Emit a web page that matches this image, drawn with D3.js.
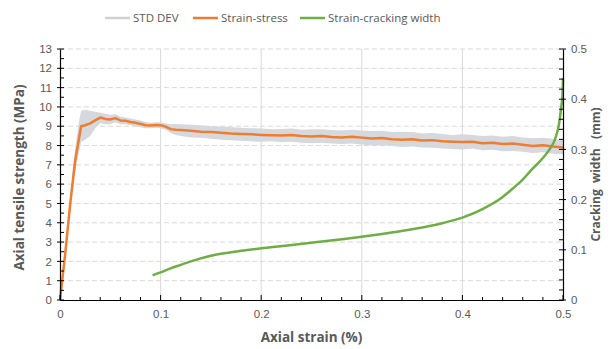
<!DOCTYPE html>
<html>
<head>
<meta charset="utf-8">
<script src="https://cdn.jsdelivr.net/npm/d3@7"></script>
<style>
  body { margin: 0; background: #fff; }
  svg { font-family: "Open Sans", "Noto Sans", sans-serif; }
</style>
</head>
<body>
<div id="chart"></div>
<script>
// strain (%) vs axial tensile stress (MPa)
const strain = [0, 0.005, 0.01, 0.015, 0.018, 0.021, 0.025, 0.03, 0.035, 0.04, 0.045, 0.05, 0.055, 0.06, 0.065, 0.07, 0.075, 0.08, 0.085, 0.09, 0.095, 0.1, 0.105, 0.11, 0.115, 0.12, 0.13, 0.14, 0.15, 0.16, 0.17, 0.18, 0.19, 0.2, 0.21, 0.22, 0.23, 0.24, 0.25, 0.26, 0.27, 0.28, 0.29, 0.3, 0.31, 0.32, 0.33, 0.34, 0.35, 0.36, 0.37, 0.38, 0.39, 0.4, 0.41, 0.42, 0.43, 0.44, 0.45, 0.46, 0.47, 0.48, 0.49, 0.5];
const stress = [0, 2.3, 4.9, 7.2, 8.1, 9.0, 9.05, 9.15, 9.3, 9.45, 9.38, 9.35, 9.42, 9.3, 9.28, 9.22, 9.18, 9.12, 9.05, 9.04, 9.06, 9.05, 8.98, 8.85, 8.82, 8.8, 8.77, 8.72, 8.7, 8.66, 8.62, 8.6, 8.58, 8.55, 8.53, 8.52, 8.54, 8.49, 8.47, 8.49, 8.44, 8.42, 8.45, 8.41, 8.37, 8.39, 8.33, 8.3, 8.32, 8.26, 8.28, 8.22, 8.2, 8.18, 8.2, 8.12, 8.15, 8.08, 8.1, 8.04, 7.98, 8.02, 7.95, 7.9];
const stdUpper = [0, 2.4, 5.1, 7.8, 9.0, 9.8, 9.85, 9.8, 9.75, 9.7, 9.65, 9.6, 9.62, 9.5, 9.45, 9.4, 9.35, 9.3, 9.22, 9.18, 9.2, 9.2, 9.15, 9.1, 9.12, 9.1, 9.08, 9.05, 9.0, 8.98, 8.95, 8.92, 8.9, 8.88, 8.85, 8.86, 8.88, 8.82, 8.84, 8.85, 8.8, 8.78, 8.82, 8.78, 8.75, 8.76, 8.7, 8.72, 8.7, 8.62, 8.65, 8.6, 8.55, 8.58, 8.55, 8.5, 8.52, 8.45, 8.5, 8.42, 8.38, 8.4, 8.35, 8.3];
const stdLower = [0, 2.2, 4.7, 6.6, 7.4, 8.2, 8.3, 8.5, 8.9, 9.15, 9.1, 9.1, 9.2, 9.1, 9.1, 9.05, 9.0, 8.95, 8.9, 8.9, 8.92, 8.9, 8.82, 8.65, 8.55, 8.5, 8.42, 8.4, 8.35, 8.3, 8.28, 8.25, 8.22, 8.2, 8.22, 8.18, 8.2, 8.15, 8.12, 8.14, 8.1, 8.08, 8.1, 8.05, 8.0, 8.02, 7.98, 7.92, 7.95, 7.9, 7.88, 7.85, 7.82, 7.8, 7.85, 7.75, 7.78, 7.7, 7.72, 7.68, 7.62, 7.65, 7.58, 7.55];

// strain (%) vs cracking width (mm)
const crackStrain = [0.093, 0.1, 0.11, 0.12, 0.13, 0.14, 0.15, 0.16, 0.18, 0.2, 0.25, 0.3, 0.35, 0.38, 0.4, 0.42, 0.44, 0.45, 0.46, 0.47, 0.48, 0.487, 0.492, 0.496, 0.498, 0.4995, 0.5];
const crackWidth = [0.05, 0.055, 0.063, 0.07, 0.077, 0.083, 0.088, 0.092, 0.098, 0.103, 0.114, 0.126, 0.141, 0.153, 0.164, 0.181, 0.205, 0.222, 0.24, 0.262, 0.283, 0.301, 0.32, 0.35, 0.38, 0.41, 0.44];

const xTicks = [0, 0.1, 0.2, 0.3, 0.4, 0.5];
const yTicks = [0, 1, 2, 3, 4, 5, 6, 7, 8, 9, 10, 11, 12, 13];
const y2Ticks = [0, 0.1, 0.2, 0.3, 0.4, 0.5];

const legendItems = [
  {label: "STD DEV", color: "#d0d0d0"},
  {label: "Strain-stress", color: "#ED7D31"},
  {label: "Strain-cracking width", color: "#70AD47"}
];

const width = 616, height = 349;
const margin = {top: 49, right: 53, bottom: 49, left: 60};
const textColor = "#595959";

const svg = d3.select("#chart").append("svg")
    .attr("width", width)
    .attr("height", height);

const x = d3.scaleLinear().domain([0, 0.5]).range([margin.left, width - margin.right]);
const y = d3.scaleLinear().domain([0, 13]).range([height - margin.bottom, margin.top]);
const y2 = d3.scaleLinear().domain([0, 0.5]).range([height - margin.bottom, margin.top]);

// grid
svg.append("g").selectAll("line")
  .data(yTicks.filter(d => d > 0))
  .join("line")
    .attr("x1", x(0)).attr("x2", x(0.5))
    .attr("y1", d => y(d)).attr("y2", d => y(d))
    .attr("stroke", "#d9d9d9")
    .attr("stroke-dasharray", "5,3");

svg.append("g").selectAll("line")
  .data(xTicks.filter(d => d > 0 && d < 0.5))
  .join("line")
    .attr("x1", d => x(d)).attr("x2", d => x(d))
    .attr("y1", y(0)).attr("y2", y(13))
    .attr("stroke", "#d9d9d9");

// std dev band
const band = d3.area()
    .x((d, i) => x(strain[i]))
    .y0((d, i) => y(stdLower[i]))
    .y1((d, i) => y(stdUpper[i]));

svg.append("path")
    .datum(strain)
    .attr("d", band)
    .attr("fill", "#d5d8dc");

// stress line
svg.append("path")
    .datum(strain)
    .attr("d", d3.line().x((d, i) => x(d)).y((d, i) => y(stress[i])))
    .attr("fill", "none")
    .attr("stroke", "#ED7D31")
    .attr("stroke-width", 2.5)
    .attr("stroke-linejoin", "round");

// crack width line
svg.append("path")
    .datum(crackStrain)
    .attr("d", d3.line().curve(d3.curveMonotoneX).x(d => x(d)).y((d, i) => y2(crackWidth[i])))
    .attr("fill", "none")
    .attr("stroke", "#70AD47")
    .attr("stroke-width", 2.5)
    .attr("stroke-linecap", "round");

// axes
const xAxis = svg.append("g").attr("transform", `translate(0,${y(0)})`)
    .call(d3.axisBottom(x).tickValues(xTicks).tickSize(0).tickPadding(10).tickFormat(d => d3.format("")(d)));
const yAxis = svg.append("g").attr("transform", `translate(${x(0)},0)`)
    .call(d3.axisLeft(y).tickValues(yTicks).tickSize(0).tickPadding(8));
const y2Axis = svg.append("g").attr("transform", `translate(${x(0.5)},0)`)
    .call(d3.axisRight(y2).tickValues(y2Ticks).tickSize(0).tickPadding(8).tickFormat(d => d3.format("")(d)));

[xAxis, yAxis, y2Axis].forEach(g => {
  g.select(".domain").attr("stroke", "#000").attr("stroke-width", 1.2);
  g.selectAll("text").attr("fill", textColor).style("font-size", "11.5px");
});

// tick marks
const minorX = d3.range(0, 0.5001, 0.02);
svg.append("g").selectAll("line")
  .data(minorX)
  .join("line")
    .attr("x1", d => x(d)).attr("x2", d => x(d))
    .attr("y1", y(0)).attr("y2", d => y(0) - (Math.abs(d * 10 - Math.round(d * 10)) < 1e-6 ? 5 : 3))
    .attr("stroke", "#000");

const minorY = d3.range(0, 13.001, 0.5);
svg.append("g").selectAll("line")
  .data(minorY)
  .join("line")
    .attr("x1", d => x(0) - (d % 1 === 0 ? 3 : 0)).attr("x2", x(0) + 4)
    .attr("y1", d => y(d)).attr("y2", d => y(d))
    .attr("stroke", "#000");

const minorY2 = d3.range(0, 0.5001, 0.02);
svg.append("g").selectAll("line")
  .data(minorY2)
  .join("line")
    .attr("x1", d => x(0.5) - 4)
    .attr("x2", d => x(0.5) + (Math.abs(d * 10 - Math.round(d * 10)) < 1e-6 ? 3 : 0))
    .attr("y1", d => y2(d)).attr("y2", d => y2(d))
    .attr("stroke", "#000");

// axis titles
svg.append("text")
    .attr("transform", `translate(24,${(y(0) + y(13)) / 2 + 3}) rotate(-90)`)
    .attr("text-anchor", "middle")
    .attr("fill", textColor)
    .style("font-size", "13.5px")
    .style("font-weight", "bold")
    .text("Axial tensile strength (MPa)");

svg.append("text")
    .attr("transform", `translate(600,${(y(0) + y(13)) / 2}) rotate(-90)`)
    .attr("text-anchor", "middle")
    .attr("fill", textColor)
    .style("font-size", "12px")
    .style("font-weight", "bold")
    .style("white-space", "pre")
    .text("Cracking  width   (mm)");

svg.append("text")
    .attr("x", (x(0) + x(0.5)) / 2)
    .attr("y", 342)
    .attr("text-anchor", "middle")
    .attr("fill", textColor)
    .style("font-size", "13.5px")
    .style("font-weight", "bold")
    .text("Axial strain (%)");

// legend
const legendX = [105, 193, 300];
const legend = svg.append("g").selectAll("g")
  .data(legendItems)
  .join("g")
    .attr("transform", (d, i) => `translate(${legendX[i]},18)`);

legend.append("line")
    .attr("x1", 0).attr("x2", 25)
    .attr("stroke", d => d.color)
    .attr("stroke-width", 2.5);

legend.append("text")
    .attr("x", 28)
    .attr("dy", "0.35em")
    .attr("fill", textColor)
    .style("font-size", "11.5px")
    .text(d => d.label);
</script>
</body>
</html>
